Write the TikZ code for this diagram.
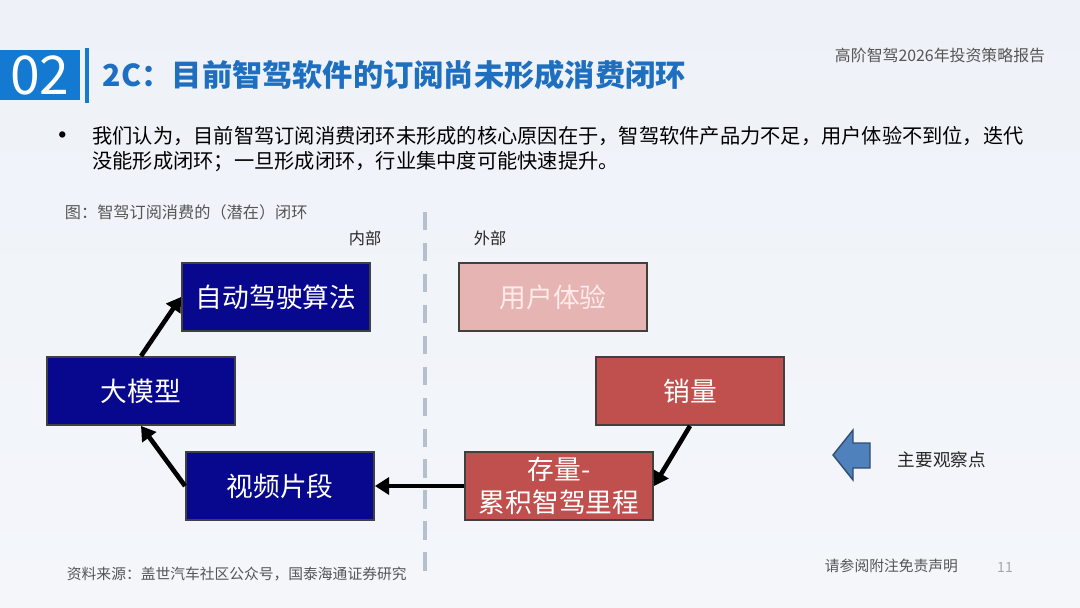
\documentclass[tikz,border=0pt]{standalone}
\usepackage{fontspec}
\setmainfont{Noto Sans CJK SC}
\usetikzlibrary{arrows.meta}
\definecolor{bgsky}{HTML}{EEF2F8}
\definecolor{bgpale}{HTML}{F4F6FA}
\definecolor{titleblue}{HTML}{1E6FC0}
\definecolor{tabblue}{HTML}{1479D1}
\definecolor{navyfill}{HTML}{08088E}
\definecolor{pinkfill}{HTML}{E6B4B2}
\definecolor{redfill}{HTML}{C0504D}
\definecolor{splitgray}{HTML}{B4C0CC}
\definecolor{textgray}{HTML}{555555}
\definecolor{markblue}{HTML}{4F81BD}

\begin{document}
\begin{tikzpicture}[x=0.025cm,y=-0.025cm,
  stepbox/.style={draw=black!75,line width=1.3pt,minimum width=4.7cm,minimum height=1.7cm,
    inner sep=0pt,align=center,font=\fontsize{19}{21}\selectfont},
  innerbox/.style={stepbox,fill=navyfill,text=white},
  outerbox/.style={stepbox,fill=redfill,text=white},
  flow/.style={line width=3.3pt,-{Triangle[length=10pt,width=12pt]}},
  note/.style={font=\fontsize{11.5}{13}\selectfont,text=black!85}]
{
\useasboundingbox (0,0) rectangle (1080,607);
\shade[top color=bgsky,bottom color=bgpale] (0,0) rectangle (1080,607);
%
\fill[tabblue] (0,50) rectangle (80,100);
\node[text=white,font=\fontsize{38}{38}\selectfont] (tab) at (40,75) {02};
\draw[tabblue,line width=2.5pt] (87,48)--(87,103);
\node[anchor=west,text=titleblue,font=\fontsize{21.5}{23}\selectfont\bfseries] (title) at (98,75) {2C：目前智驾软件的订阅尚未形成消费闭环};
\node[anchor=west,text=textgray,font=\fontsize{11.3}{13}\selectfont] (report) at (830,55) {高阶智驾2026年投资策略报告};
%
\node[font=\fontsize{16}{16}\selectfont\bfseries] (dot) at (63,138) {•};
\node[anchor=north west,align=left,inner sep=0pt,font=\fontsize{14.4}{17.5}\selectfont] (point) at (92,126)
  {我们认为，目前智驾订阅消费闭环未形成的核心原因在于，智驾软件产品力不足，用户体验不到位，迭代\\
   没能形成闭环；一旦形成闭环，行业集中度可能快速提升。};
\node[anchor=west,note,text=textgray] (caption) at (60,212) {图：智驾订阅消费的（潜在）闭环};
%
\draw[splitgray,line width=3pt,dash pattern=on 13pt off 9pt] (425,212)--(425,580);
\node[note] (inside) at (365,238) {内部};
\node[note] (outside) at (490,238) {外部};
%
\node[innerbox] (algo) at (276,297) {自动驾驶算法};
\node[innerbox] (model) at (141,391) {大模型};
\node[innerbox] (clips) at (280,486) {视频片段};
\node[stepbox,fill=pinkfill,text=red!8] (ux) at (553,297) {用户体验};
\node[outerbox] (sales) at (690,391) {销量};
\node[outerbox,font=\fontsize{19}{23}\selectfont] (stock) at (559,486) {存量-\\累积智驾里程};
%
\draw[flow] (model.north)--(algo.west);
\draw[flow] (clips.west)--(model.south);
\draw[flow] (stock.west)--(clips.east);
\draw[flow] (sales.south)--(stock.east);
%
\draw[fill=markblue,draw=markblue!60!black,line width=1pt] (833,455)--(853,430)--(853,443)--(870,443)--(870,468)--(853,468)--(853,480)--cycle;
\node[anchor=west,note,font=\fontsize{12.5}{14}\selectfont] (focus) at (893,460) {主要观察点};
%
\node[anchor=west,note,text=textgray,font=\fontsize{10.5}{12}\selectfont] (source) at (62,574) {资料来源：盖世汽车社区公众号，国泰海通证券研究};
\node[anchor=west,note,text=textgray,font=\fontsize{10.5}{12}\selectfont] (disclaim) at (820,566) {请参阅附注免责声明};
\node[text=black!35,font=\fontsize{10}{12}\selectfont] (page) at (1005,567) {11};
}
\end{tikzpicture}
\end{document}
